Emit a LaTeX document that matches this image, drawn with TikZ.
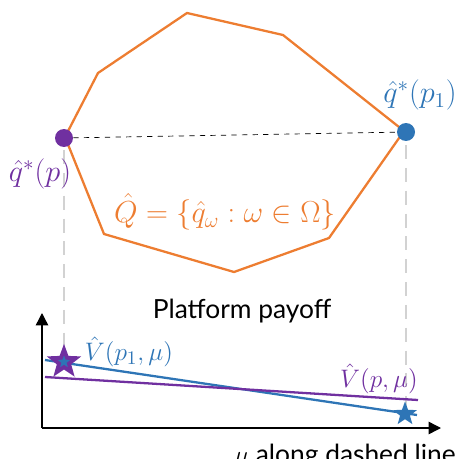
\documentclass[tikz,border=0pt]{standalone}
\usepackage{fontspec}
\setmainfont{Lato}
\usepackage{tikz}
\usetikzlibrary{shapes.geometric, arrows.meta, positioning, calc}

\definecolor{qorange}{RGB}{237,125,49}
\definecolor{qblue}{RGB}{46,117,182}
\definecolor{qpurple}{RGB}{112,48,160}
\definecolor{qgrey}{RGB}{210,210,210}

\begin{document}
\begin{tikzpicture}[
  x=0.02cm, y=-0.02cm,
  dot/.style={circle, inner sep=0pt, minimum size=0.36cm},
  lbl/.style={font=\fontsize{17}{20}\selectfont, inner sep=1pt},
  vlbl/.style={font=\fontsize{15}{18}\selectfont, inner sep=1pt},
  guide/.style={qgrey, line width=1.3pt, dash pattern=on 8pt off 5pt},
  payoff/.style={line width=1.3pt},
  axis/.style={line width=0.8pt, -{Triangle[length=7pt, width=7pt]}},
  mark star/.style={star, star points=5, star point ratio=2.4, inner sep=0pt, minimum size=0.5cm}
]
\useasboundingbox (0,0) rectangle (458,459);

% guide lines down to the payoff plot
\coordinate (gp) at (64,362);
\coordinate (gp1) at (406,414);
\draw[guide] (64,150) -- (gp);
\draw[guide] (406,145) -- (gp1);

% set of posteriors
\draw[qorange, line width=1.3pt] (187,13) -- (283,35) -- (404,131) -- (329,238)
  -- (234,272) -- (104,234) -- (65,137) -- (98,73) -- cycle;

\node[dot, fill=qpurple] (qp) at (64,138) {};
\node[dot, fill=qblue] (qp1) at (406,132) {};
\draw[dashed, thin] (qp) -- (qp1);

\node[lbl, text=qblue] (qp1lbl) at (420,95) {$\hat q^*(p_1)$};
\node[lbl, text=qpurple] (qplbl) at (40,174) {$\hat q^*(p)$};
\node[lbl, text=qorange] (setlbl) at (225,212) {$\hat Q=\{\hat q_\omega : \omega\in\Omega\}$};

% payoff plot
\coordinate (origin) at (42,428);
\coordinate (ytip) at (42,313);
\coordinate (xtip) at (441,428);
\draw[axis] (origin) -- (ytip);
\draw[axis] (origin) -- (xtip);
\node[font=\fontsize{15}{18}\selectfont] (title) at (242,311) {Platform payoff};

\coordinate (b0) at (45,360);
\coordinate (b1) at (417,415);
\coordinate (u0) at (45,377);
\coordinate (u1) at (418,400);
\draw[payoff, qblue] (b0) -- (b1);
\draw[payoff, qpurple] (u0) -- (u1);

\node[mark star, fill=qblue, draw=qpurple, line width=2.2pt] (sp) at (gp) {};
\node[mark star, fill=qblue] (sp1) at (405,414) {};

\node[vlbl, text=qblue] (vp1) at (129,352) {$\hat V(p_1,\mu)$};
\node[vlbl, text=qpurple] (vp) at (379,379) {$\hat V(p,\mu)$};
\node[font=\fontsize{15}{18}\selectfont, anchor=north, inner sep=1pt] (xlbl) at (345,442) {$\mu$ along dashed line};
\end{tikzpicture}
\end{document}
